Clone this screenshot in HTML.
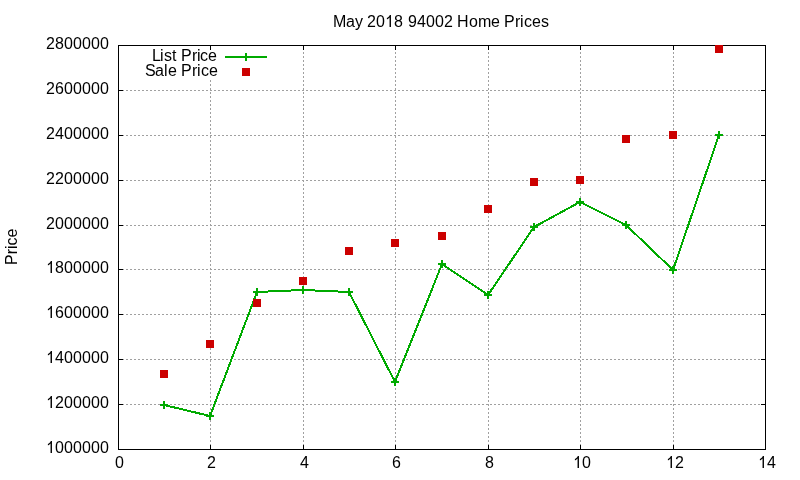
<!DOCTYPE html>
<html><head><meta charset="utf-8"><style>
html,body{margin:0;padding:0;background:#fff;}
svg{display:block;will-change:transform;}
text{font-family:"Liberation Sans",sans-serif;font-size:16px;fill:#000;font-kerning:none;}
.g{stroke:#a0a0a0;stroke-width:1;stroke-dasharray:2 2;shape-rendering:crispEdges;}
.bd{fill:none;stroke:#000;stroke-width:1;shape-rendering:crispEdges;}
.t{stroke:#000;stroke-width:1;shape-rendering:crispEdges;}
.ln{fill:none;stroke:#00aa00;stroke-width:2;shape-rendering:crispEdges;}
.sq{fill:#cc0000;shape-rendering:crispEdges;}
</style></head><body>
<svg width="800" height="480" viewBox="0 0 800 480">
<line x1="210.5" y1="450" x2="210.5" y2="46" class="g"/>
<line x1="303.5" y1="450" x2="303.5" y2="46" class="g"/>
<line x1="395.5" y1="450" x2="395.5" y2="46" class="g"/>
<line x1="488.5" y1="450" x2="488.5" y2="46" class="g"/>
<line x1="580.5" y1="450" x2="580.5" y2="46" class="g"/>
<line x1="673.5" y1="450" x2="673.5" y2="46" class="g"/>
<line x1="118" y1="404.5" x2="765" y2="404.5" class="g"/>
<line x1="118" y1="359.5" x2="765" y2="359.5" class="g"/>
<line x1="118" y1="314.5" x2="765" y2="314.5" class="g"/>
<line x1="118" y1="269.5" x2="765" y2="269.5" class="g"/>
<line x1="118" y1="225.5" x2="765" y2="225.5" class="g"/>
<line x1="118" y1="180.5" x2="765" y2="180.5" class="g"/>
<line x1="118" y1="135.5" x2="765" y2="135.5" class="g"/>
<line x1="118" y1="90.5" x2="765" y2="90.5" class="g"/>
<rect x="130" y="46" width="145" height="34" fill="#fff"/>
<rect x="118.5" y="45.5" width="647" height="404" class="bd"/>
<line x1="118.5" y1="449" x2="118.5" y2="445" class="t"/>
<line x1="118.5" y1="46" x2="118.5" y2="50" class="t"/>
<text x="115" y="468">0</text>
<line x1="210.5" y1="449" x2="210.5" y2="445" class="t"/>
<line x1="210.5" y1="46" x2="210.5" y2="50" class="t"/>
<text x="207" y="468">2</text>
<line x1="303.5" y1="449" x2="303.5" y2="445" class="t"/>
<line x1="303.5" y1="46" x2="303.5" y2="50" class="t"/>
<text x="300" y="468">4</text>
<line x1="395.5" y1="449" x2="395.5" y2="445" class="t"/>
<line x1="395.5" y1="46" x2="395.5" y2="50" class="t"/>
<text x="392" y="468">6</text>
<line x1="488.5" y1="449" x2="488.5" y2="445" class="t"/>
<line x1="488.5" y1="46" x2="488.5" y2="50" class="t"/>
<text x="485" y="468">8</text>
<line x1="580.5" y1="449" x2="580.5" y2="445" class="t"/>
<line x1="580.5" y1="46" x2="580.5" y2="50" class="t"/>
<text x="582" y="468">0</text>
<path d="M578.96,468.00L577.55,468.00L577.55,458.61Q577.05,459.12 576.22,459.63Q575.40,460.13 574.88,460.34L574.88,458.91Q575.82,458.45 576.64,457.69Q577.46,456.93 577.81,456.00L578.96,456.00Z" fill="#000"/>
<line x1="673.5" y1="449" x2="673.5" y2="445" class="t"/>
<line x1="673.5" y1="46" x2="673.5" y2="50" class="t"/>
<text x="675" y="468">2</text>
<path d="M671.96,468.00L670.55,468.00L670.55,458.61Q670.05,459.12 669.22,459.63Q668.40,460.13 667.88,460.34L667.88,458.91Q668.82,458.45 669.64,457.69Q670.46,456.93 670.81,456.00L671.96,456.00Z" fill="#000"/>
<line x1="765.5" y1="449" x2="765.5" y2="445" class="t"/>
<line x1="765.5" y1="46" x2="765.5" y2="50" class="t"/>
<text x="767" y="468">4</text>
<path d="M763.96,468.00L762.55,468.00L762.55,458.61Q762.05,459.12 761.22,459.63Q760.40,460.13 759.88,460.34L759.88,458.91Q760.82,458.45 761.64,457.69Q762.46,456.93 762.81,456.00L763.96,456.00Z" fill="#000"/>
<line x1="118" y1="449.5" x2="123" y2="449.5" class="t"/>
<line x1="765" y1="449.5" x2="761" y2="449.5" class="t"/>
<text x="55 64 73 82 91 100" y="453">000000</text>
<path d="M51.96,453.00L50.55,453.00L50.55,443.61Q50.05,444.12 49.22,444.63Q48.40,445.13 47.88,445.34L47.88,443.91Q48.82,443.45 49.64,442.69Q50.46,441.93 50.81,441.00L51.96,441.00Z" fill="#000"/>
<line x1="118" y1="404.5" x2="123" y2="404.5" class="t"/>
<line x1="765" y1="404.5" x2="761" y2="404.5" class="t"/>
<text x="55 64 73 82 91 100" y="408">200000</text>
<path d="M51.96,408.00L50.55,408.00L50.55,398.61Q50.05,399.12 49.22,399.63Q48.40,400.13 47.88,400.34L47.88,398.91Q48.82,398.45 49.64,397.69Q50.46,396.93 50.81,396.00L51.96,396.00Z" fill="#000"/>
<line x1="118" y1="359.5" x2="123" y2="359.5" class="t"/>
<line x1="765" y1="359.5" x2="761" y2="359.5" class="t"/>
<text x="55 64 73 82 91 100" y="363">400000</text>
<path d="M51.96,363.00L50.55,363.00L50.55,353.61Q50.05,354.12 49.22,354.63Q48.40,355.13 47.88,355.34L47.88,353.91Q48.82,353.45 49.64,352.69Q50.46,351.93 50.81,351.00L51.96,351.00Z" fill="#000"/>
<line x1="118" y1="314.5" x2="123" y2="314.5" class="t"/>
<line x1="765" y1="314.5" x2="761" y2="314.5" class="t"/>
<text x="55 64 73 82 91 100" y="318">600000</text>
<path d="M51.96,318.00L50.55,318.00L50.55,308.61Q50.05,309.12 49.22,309.63Q48.40,310.13 47.88,310.34L47.88,308.91Q48.82,308.45 49.64,307.69Q50.46,306.93 50.81,306.00L51.96,306.00Z" fill="#000"/>
<line x1="118" y1="269.5" x2="123" y2="269.5" class="t"/>
<line x1="765" y1="269.5" x2="761" y2="269.5" class="t"/>
<text x="55 64 73 82 91 100" y="273">800000</text>
<path d="M51.96,273.00L50.55,273.00L50.55,263.61Q50.05,264.12 49.22,264.63Q48.40,265.13 47.88,265.34L47.88,263.91Q48.82,263.45 49.64,262.69Q50.46,261.93 50.81,261.00L51.96,261.00Z" fill="#000"/>
<line x1="118" y1="225.5" x2="123" y2="225.5" class="t"/>
<line x1="765" y1="225.5" x2="761" y2="225.5" class="t"/>
<text x="46 55 64 73 82 91 100" y="229">2000000</text>
<line x1="118" y1="180.5" x2="123" y2="180.5" class="t"/>
<line x1="765" y1="180.5" x2="761" y2="180.5" class="t"/>
<text x="46 55 64 73 82 91 100" y="184">2200000</text>
<line x1="118" y1="135.5" x2="123" y2="135.5" class="t"/>
<line x1="765" y1="135.5" x2="761" y2="135.5" class="t"/>
<text x="46 55 64 73 82 91 100" y="139">2400000</text>
<line x1="118" y1="90.5" x2="123" y2="90.5" class="t"/>
<line x1="765" y1="90.5" x2="761" y2="90.5" class="t"/>
<text x="46 55 64 73 82 91 100" y="94">2600000</text>
<line x1="118" y1="45.5" x2="123" y2="45.5" class="t"/>
<line x1="765" y1="45.5" x2="761" y2="45.5" class="t"/>
<text x="46 55 64 73 82 91 100" y="49">2800000</text>
<polyline points="164,405 210,416 257,292 303,290 349,292 395,382 442,264 488,295 534,227 580,202 626,225 673,270 719,135" class="ln"/>
<path d="M160,405h8M164,401v8" class="ln"/>
<path d="M206,416h8M210,412v8" class="ln"/>
<path d="M253,292h8M257,288v8" class="ln"/>
<path d="M299,290h8M303,286v8" class="ln"/>
<path d="M345,292h8M349,288v8" class="ln"/>
<path d="M391,382h8M395,378v8" class="ln"/>
<path d="M438,264h8M442,260v8" class="ln"/>
<path d="M484,295h8M488,291v8" class="ln"/>
<path d="M530,227h8M534,223v8" class="ln"/>
<path d="M576,202h8M580,198v8" class="ln"/>
<path d="M622,225h8M626,221v8" class="ln"/>
<path d="M669,270h8M673,266v8" class="ln"/>
<path d="M715,135h8M719,131v8" class="ln"/>
<rect x="160" y="370" width="8" height="8" class="sq"/>
<rect x="206" y="340" width="8" height="8" class="sq"/>
<rect x="253" y="299" width="8" height="8" class="sq"/>
<rect x="299" y="277" width="8" height="8" class="sq"/>
<rect x="345" y="247" width="8" height="8" class="sq"/>
<rect x="391" y="239" width="8" height="8" class="sq"/>
<rect x="438" y="232" width="8" height="8" class="sq"/>
<rect x="484" y="205" width="8" height="8" class="sq"/>
<rect x="530" y="178" width="8" height="8" class="sq"/>
<rect x="576" y="176" width="8" height="8" class="sq"/>
<rect x="622" y="135" width="8" height="8" class="sq"/>
<rect x="669" y="131" width="8" height="8" class="sq"/>
<rect x="715" y="45" width="8" height="8" class="sq"/>
<text x="152 160 164 172 181 192 197 200 208" y="61">ListPrice</text>
<text x="145 155 164 168 181 192 197 201 209" y="76">SalePrice</text>
<path d="M225,57h42M246,53v8" class="ln"/>
<rect x="242" y="68" width="8" height="8" class="sq"/>
<text x="333 346 355 367 376 394" y="27">May208</text>
<path d="M390.96,27.00L389.55,27.00L389.55,17.61Q389.05,18.12 388.22,18.63Q387.40,19.13 386.88,19.34L386.88,17.91Q387.82,17.45 388.64,16.69Q389.46,15.93 389.81,15.00L390.96,15.00Z" fill="#000"/>
<text x="408 417 426 435 444 457 469 478 491 504 515 520 524 532 541" y="27">94002HomePrices</text>
<text x="0" y="0" transform="translate(17,265) rotate(-90)">Price</text>
</svg></body></html>
